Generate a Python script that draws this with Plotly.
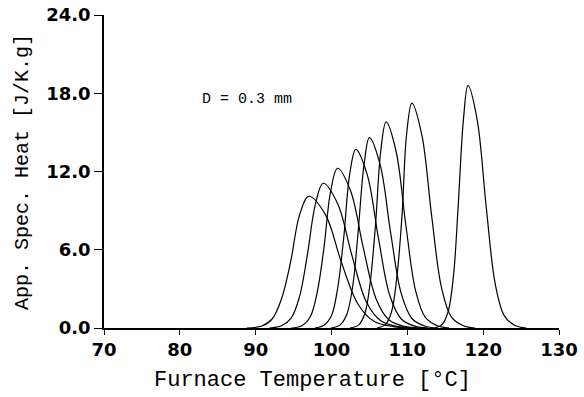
import plotly.graph_objects as go

# Curves (temperature in °C, apparent specific heat in J/K.g)
x1 = [88.8, 90.8, 92.2, 93.4, 94.6, 95.8, 97.0, 99.2, 101.3, 103.5, 105.6, 108.2, 110.8]
y1 = [0, 0.15, 0.71, 2.22, 5.05, 8.69, 10.1, 8.69, 5.05, 1.82, 0.51, 0.10, 0]
x2 = [91.8, 93.4, 94.7, 95.8, 96.8, 97.9, 98.9, 100.8, 102.7, 104.6, 106.5, 108.8, 111.1]
y2 = [0, 0.17, 0.78, 2.44, 5.55, 9.55, 11.1, 9.55, 5.55, 2.0, 0.56, 0.11, 0]
x3 = [94.7, 96.1, 97.2, 98.1, 99.0, 99.9, 100.8, 102.5, 104.2, 105.9, 107.6, 109.6, 111.7]
y3 = [0, 0.18, 0.86, 2.70, 6.13, 10.54, 12.25, 10.54, 6.13, 2.21, 0.61, 0.12, 0]
x4 = [97.8, 99.0, 100.0, 100.8, 101.6, 102.4, 103.2, 104.7, 106.2, 107.7, 109.2, 111.0, 112.8]
y4 = [0, 0.21, 0.96, 3.01, 6.85, 11.78, 13.7, 11.78, 6.85, 2.47, 0.69, 0.14, 0]
x5 = [99.9, 101.1, 102.0, 102.8, 103.5, 104.3, 105.0, 106.4, 107.8, 109.2, 110.6, 112.3, 114.0]
y5 = [0, 0.22, 1.02, 3.21, 7.3, 12.56, 14.6, 12.56, 7.3, 2.63, 0.73, 0.15, 0]
x6 = [102.4, 103.6, 104.4, 105.1, 105.8, 106.5, 107.2, 108.5, 109.8, 111.1, 112.4, 114.0, 115.5]
y6 = [0, 0.24, 1.11, 3.48, 7.9, 13.59, 15.8, 13.59, 7.9, 2.84, 0.79, 0.16, 0]
x7 = [106.0, 107.1, 107.9, 108.6, 109.3, 109.9, 110.6, 111.9, 113.2, 114.5, 115.8, 117.4, 118.9]
y7 = [0, 0.26, 1.21, 3.8, 8.63, 14.84, 17.25, 14.84, 8.63, 3.11, 0.86, 0.17, 0]
x8 = [113.6, 114.6, 115.4, 116.1, 116.7, 117.4, 118.0, 119.2, 120.4, 121.6, 122.8, 124.2, 125.7]
y8 = [0, 0.28, 1.3, 4.09, 9.3, 16.0, 18.6, 16.0, 9.3, 3.35, 0.93, 0.19, 0]

x_ticks = [70, 80, 90, 100, 110, 120, 130]
y_ticks = [0, 6, 12, 18, 24]
y_tick_labels = ["0.0", "6.0", "12.0", "18.0", "24.0"]

curves = [(x1, y1), (x2, y2), (x3, y3), (x4, y4), (x5, y5), (x6, y6), (x7, y7), (x8, y8)]

fig = go.Figure()
for xs, ys in curves:
    fig.add_trace(go.Scatter(x=xs, y=ys, mode="lines",
                             line=dict(color="black", width=1.2, shape="spline", smoothing=1.0),
                             showlegend=False, hoverinfo="skip"))

tickfont = dict(family="DejaVu Sans", size=18, color="black", weight="bold")
fig.update_layout(
    width=584, height=397,
    margin=dict(l=103.6, r=25.4, t=15, b=69, autoexpand=False),
    paper_bgcolor="white", plot_bgcolor="white",
    xaxis=dict(range=[70, 130], tickvals=x_ticks, ticktext=[str(v) for v in x_ticks],
               automargin=False, ticklabeloverflow="allow",
               showgrid=False, zeroline=False, showline=True, linecolor="black", linewidth=1.5,
               ticks="outside", ticklen=5, tickwidth=1.2, tickcolor="black",
               tickfont=tickfont),
    yaxis=dict(range=[0, 24], tickvals=y_ticks, ticktext=y_tick_labels,
               automargin=False, ticklabeloverflow="allow",
               showgrid=False, zeroline=False, showline=True, linecolor="black", linewidth=1.5,
               ticks="outside", ticklen=8, tickwidth=1.2, tickcolor="black",
               tickfont=tickfont),
    annotations=[
        dict(text="Furnace Temperature [°C]", xref="paper", yref="paper", x=0.459, y=-0.169,
             showarrow=False, xanchor="center", yanchor="middle",
             font=dict(family="Liberation Mono", size=22, color="black")),
        dict(text="App. Spec. Heat [J/K.g]", xref="paper", yref="paper", x=-0.179, y=0.497,
             showarrow=False, xanchor="center", yanchor="middle", textangle=-90,
             font=dict(family="Liberation Mono", size=20, color="black")),
        dict(text="D = 0.3 mm", xref="x", yref="y", x=88.8, y=17.5,
             showarrow=False, xanchor="center", yanchor="middle",
             font=dict(family="Liberation Mono", size=15, color="black")),
    ],
)

fig.write_html("out.html", config={"displayModeBar": False},
               post_script="document.body.style.margin='0px';")
